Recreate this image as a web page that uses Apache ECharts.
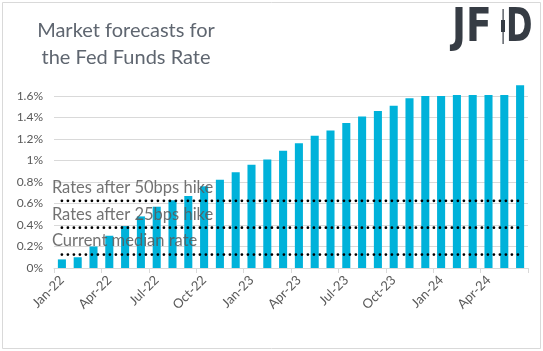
<!DOCTYPE html>
<html><head><meta charset="utf-8">
<script src="https://cdn.jsdelivr.net/npm/echarts@6/dist/echarts.min.js"></script>
<style>html,body{margin:0;padding:0;background:#fff}#c{width:543px;height:351px}</style>
</head><body><div id="c"></div>
<script>
var categories = ['Jan-22','Feb-22','Mar-22','Apr-22','May-22','Jun-22','Jul-22','Aug-22','Sep-22','Oct-22','Nov-22','Dec-22',
  'Jan-23','Feb-23','Mar-23','Apr-23','May-23','Jun-23','Jul-23','Aug-23','Sep-23','Oct-23','Nov-23','Dec-23',
  'Jan-24','Feb-24','Mar-24','Apr-24','May-24','Jun-24'];
var rateForecast = [0.08,0.10,0.20,0.30,0.39,0.48,0.57,0.63,0.67,0.76,0.82,0.89,0.96,1.01,1.09,1.16,1.23,1.28,1.35,1.41,1.46,1.51,1.58,1.60,1.60,1.61,1.61,1.61,1.61,1.70];
var levelNames = ['Rates after 50bps hike','Rates after 25bps hike','Current median rate'];
var levelValues = [0.625, 0.375, 0.125];
var yTicks = [0, 0.2, 0.4, 0.6, 0.8, 1.0, 1.2, 1.4, 1.6];

var chart = echarts.init(document.getElementById('c'), null, {renderer:'canvas'});
var levelSeries = levelNames.map(function(name, i){
  var first = categories[0], last = categories[categories.length-1];
  return {
    type:'line', name:name, symbol:'circle', symbolSize:0, showSymbol:true, silent:true, z:5,
    lineStyle:{color:'#000', width:2.8, type:[0,6], cap:'round'},
    label:{show:false},
    data:[
      {value:[first, levelValues[i]], label:{show:true, formatter:name, position:'top', align:'left', verticalAlign:'bottom', offset:[-10,0],
        fontFamily:"'Liberation Sans Narrow', Lato", fontSize:16.5, color:'rgba(89,89,89,0.85)'}},
      [last, levelValues[i]]
    ]
  };
});
chart.setOption({
  animation:false,
  backgroundColor:'#fff',
  title:{text:'Market forecasts for\nthe Fed Funds Rate', left:121, top:12, textAlign:'center',
    textStyle:{fontFamily:'Lato', fontSize:20, fontWeight:'normal', color:'#5f6670', lineHeight:27}},
  grid:{left:54, right:15, top:96, bottom:83, containLabel:false},
  xAxis:{type:'category', data:categories, boundaryGap:true,
    axisLine:{lineStyle:{color:'#d9d9d9', width:1}},
    axisTick:{show:true, interval:2, length:5, lineStyle:{color:'#d9d9d9'}},
    axisLabel:{interval:2, rotate:45, margin:10, fontFamily:'Lato', fontSize:13, color:'#595959'}},
  yAxis:{type:'value', min:yTicks[0], max:yTicks[yTicks.length-1], interval:0.2,
    axisLine:{show:false}, axisTick:{show:false},
    splitLine:{lineStyle:{color:'#d9d9d9', width:1}},
    axisLabel:{margin:11, fontFamily:'Lato', fontSize:12, color:'#595959',
      formatter:function(v){return (Math.round(v*10)/10)+'%';}}},
  series:[{type:'bar', data:rateForecast, barWidth:'51%', clip:false, itemStyle:{color:'#00b2da'}, z:2}].concat(levelSeries),
  graphic:[
    {type:'rect', shape:{x:2.5,y:2.5,width:538,height:346}, style:{fill:'none', stroke:'#d9d9d9', lineWidth:1}, silent:true, z:-1},
    {type:'text', x:452, y:5, style:{text:'JF', fontFamily:'DejaVu Sans', fontWeight:'bold', fontSize:47, fill:'#363c44'}, scaleX:0.8},
    {type:'rect', shape:{x:502.5,y:9,width:1.2,height:35}, style:{fill:'#363c44'}},
    {type:'rect', shape:{x:501,y:20,width:4,height:12}, style:{fill:'#363c44'}},
    {type:'text', x:506, y:5, style:{text:'D', fontFamily:'DejaVu Sans', fontWeight:'bold', fontSize:47, fill:'#363c44'}, scaleX:0.68}
  ]
});
</script></body></html>
